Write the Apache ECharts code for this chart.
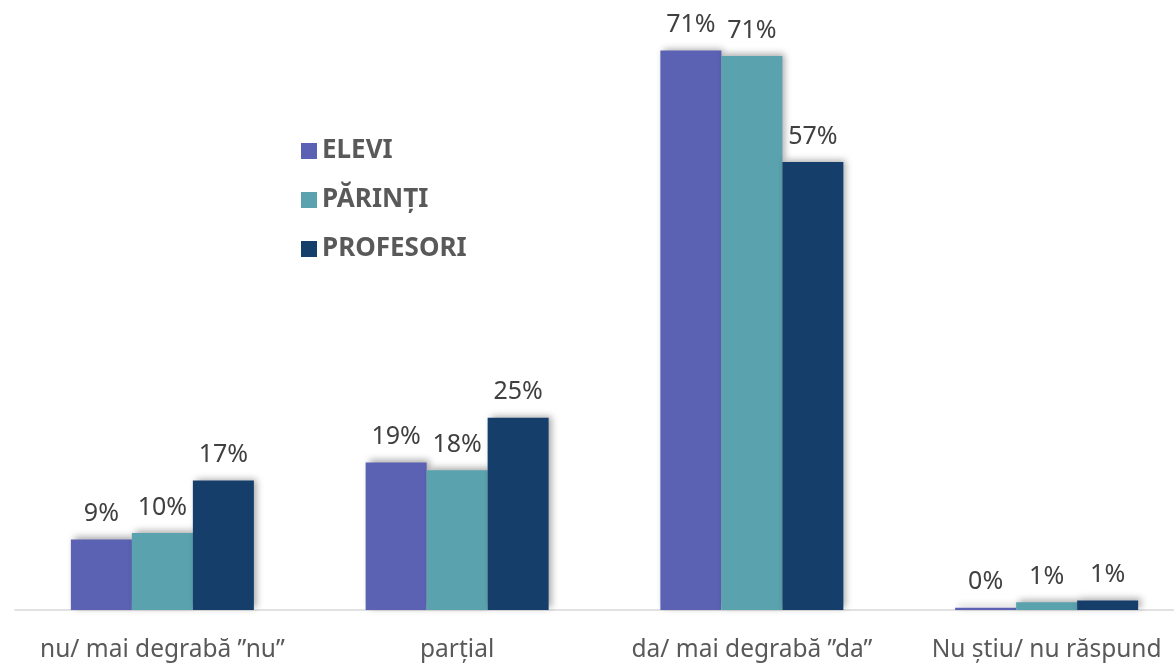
<!DOCTYPE html>
<html>
<head>
<meta charset="utf-8">
<script src="https://cdn.jsdelivr.net/npm/echarts@6/dist/echarts.min.js"></script>
<style>
html,body{margin:0;padding:0;background:#fff;overflow:hidden;width:1174px;height:663px;}
#chart{width:1194px;height:663px;}
</style>
</head>
<body>
<div id="chart"></div>
<script>
const categories = ['nu/ mai degrabă ”nu”', 'parțial', 'da/ mai degrabă ”da”', 'Nu știu/ nu răspund'];
const seriesNames = ['ELEVI', 'PĂRINȚI', 'PROFESORI'];
const elevi = [9.0, 18.8, 71.3, 0.3];
const parinti = [9.8, 17.8, 70.6, 1.0];
const profesori = [16.5, 24.5, 57.1, 1.2];
const colors = ['#5B62B4', '#59A2AE', '#163E6A'];

const chart = echarts.init(document.getElementById('chart'));
const dataSets = [elevi, parinti, profesori];
const series = seriesNames.map((name, i) => ({
  name: name,
  type: 'bar',
  data: dataSets[i],
  barWidth: 61,
  barGap: '0%',
  itemStyle: {
    color: colors[i],
    shadowBlur: 7,
    shadowColor: 'rgba(0,0,0,0.35)',
    shadowOffsetX: 3,
    shadowOffsetY: -2
  },
  label: {
    show: true,
    position: 'top',
    distance: 13,
    color: '#404040',
    fontFamily: 'Noto Sans',
    fontSize: 25,
    formatter: p => Math.round(p.value) + '%'
  }
}));

chart.setOption({
  animation: false,
  backgroundColor: '#fff',
  color: colors,
  grid: { left: 15, right: 0, top: 21.5, bottom: 49.5, containLabel: false },
  legend: {
    orient: 'vertical',
    left: 296,
    top: 133,
    itemWidth: 16,
    itemHeight: 16,
    itemGap: 23,
    icon: 'rect',
    data: seriesNames,
    textStyle: {
      color: '#595959',
      fontFamily: 'Noto Sans',
      fontWeight: 'bold',
      fontSize: 26
    }
  },
  xAxis: {
    type: 'category',
    data: categories,
    axisLine: { show: true, lineStyle: { color: '#d9d9d9', width: 1.5 } },
    axisTick: { show: false },
    axisLabel: {
      color: '#595959',
      fontFamily: 'Noto Sans',
      fontSize: 24.5,
      margin: 28,
      interval: 0
    }
  },
  yAxis: {
    type: 'value',
    min: 0,
    max: 75,
    show: false,
    splitLine: { show: false }
  },
  series: series
});
</script>
</body>
</html>
